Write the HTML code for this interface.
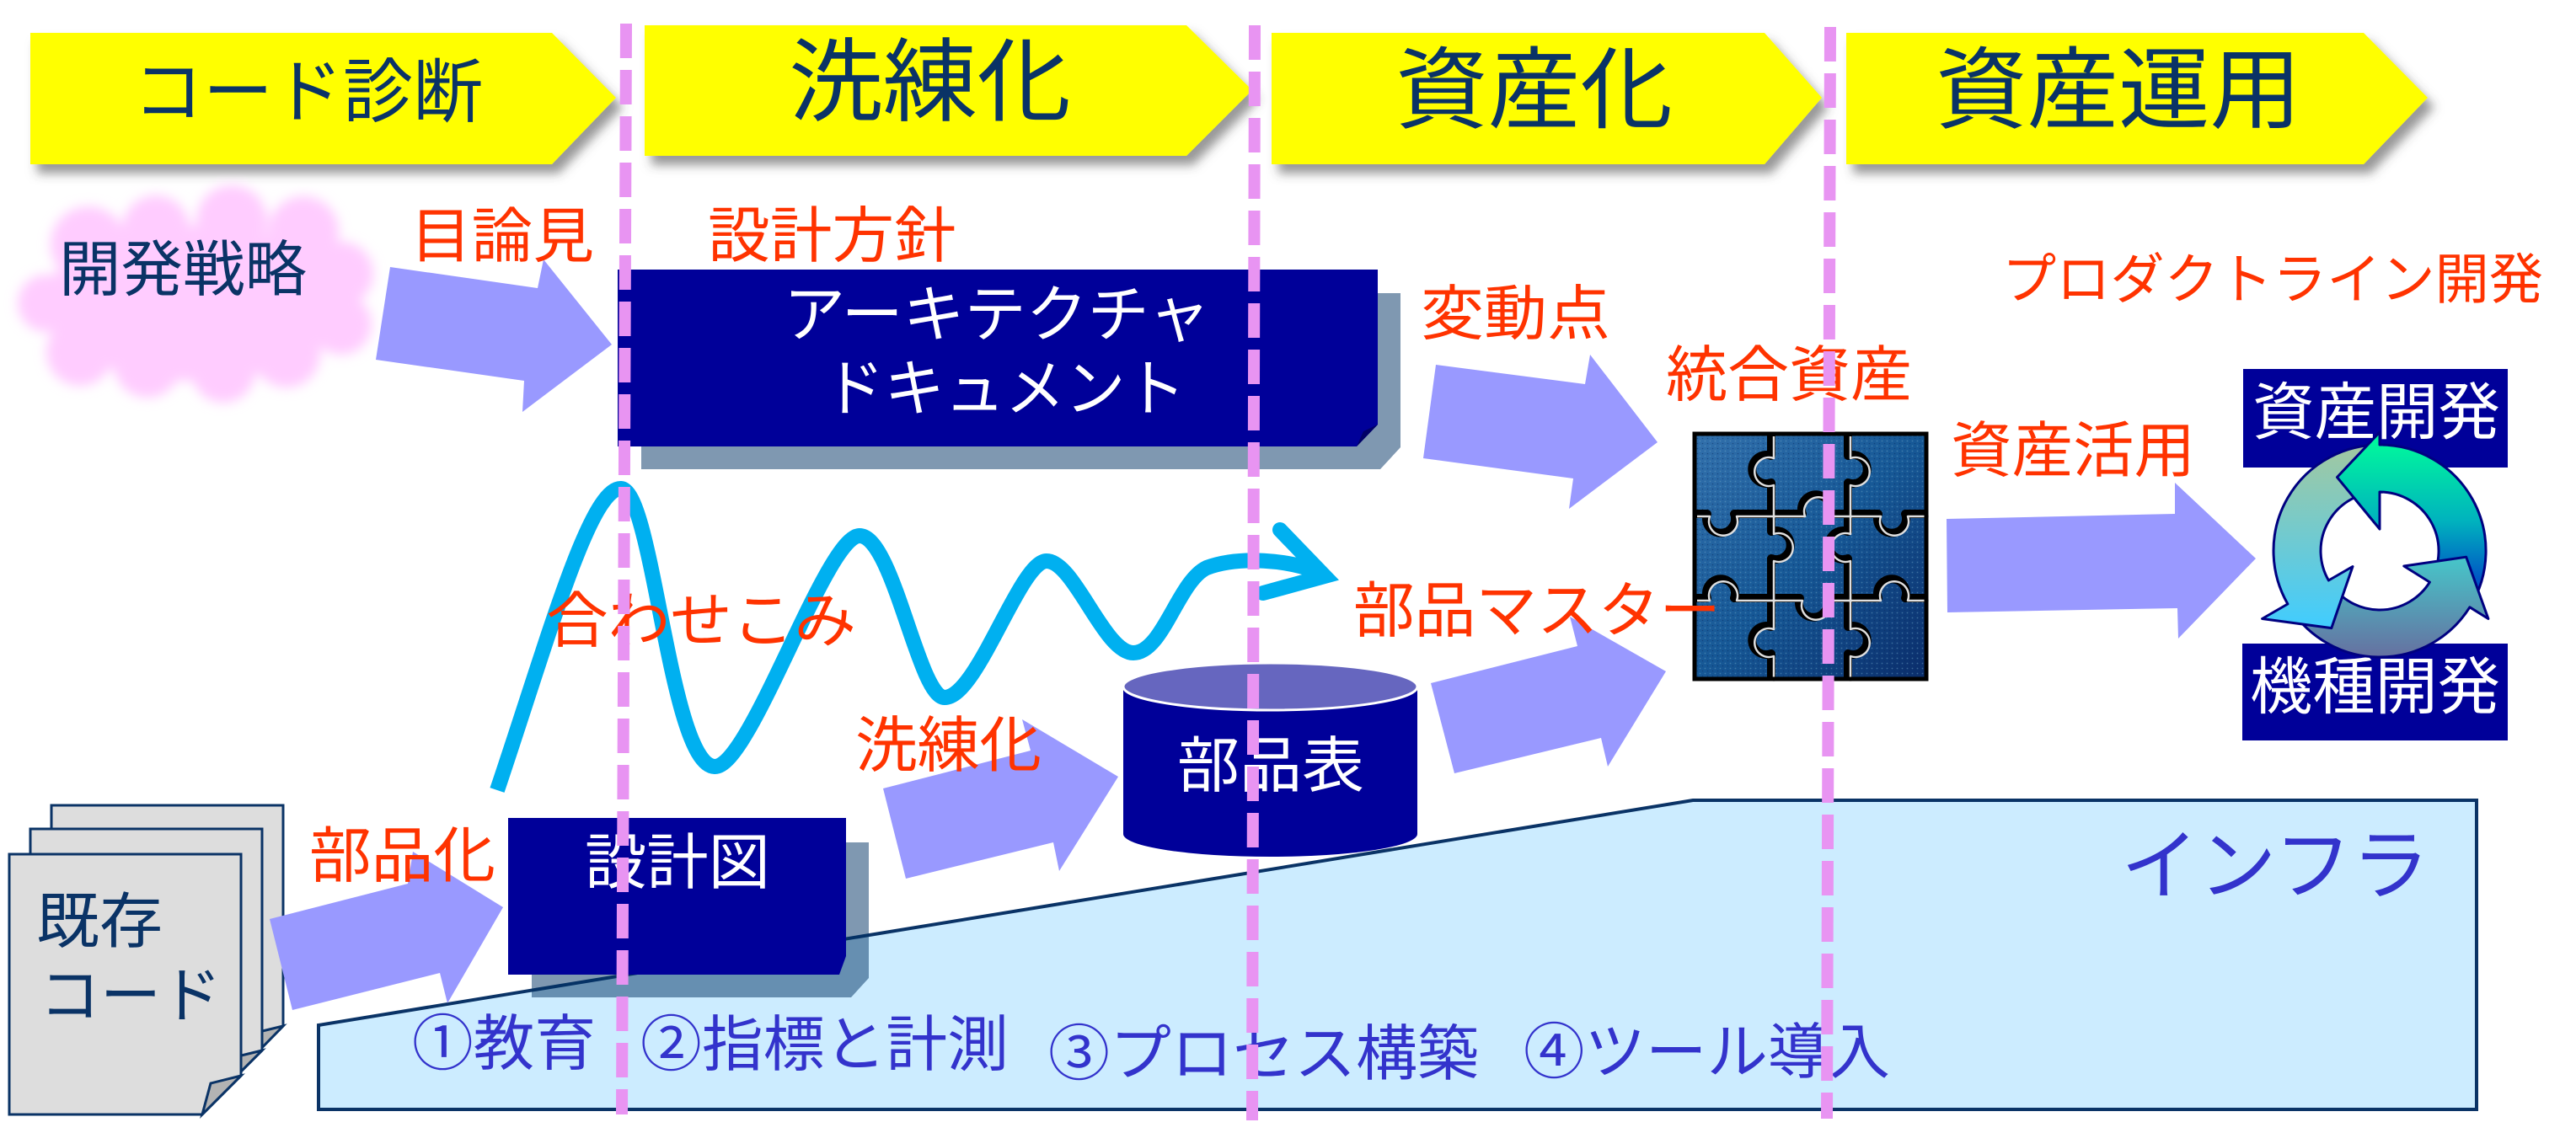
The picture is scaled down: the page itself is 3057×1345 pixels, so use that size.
<!DOCTYPE html>
<html><head><meta charset="utf-8">
<style>
html,body{margin:0;padding:0;background:#fff;}
svg{display:block;}
text{font-family:"Liberation Sans","Noto Sans CJK JP",sans-serif;}
</style></head>
<body>
<svg width="3057" height="1345" viewBox="0 0 3057 1345" xmlns="http://www.w3.org/2000/svg">
<defs>
  <filter id="ds" x="-10%" y="-20%" width="130%" height="160%">
    <feDropShadow dx="8" dy="11" stdDeviation="6" flood-color="#444" flood-opacity="0.55"/>
  </filter>
  <filter id="blur" x="-20%" y="-30%" width="140%" height="160%">
    <feGaussianBlur stdDeviation="7"/>
  </filter>
  <linearGradient id="gA" gradientUnits="userSpaceOnUse" x1="0" y1="-140" x2="0" y2="70">
    <stop offset="0" stop-color="#00FF99"/>
    <stop offset="0.5" stop-color="#00B2BE"/>
    <stop offset="1" stop-color="#0026C8"/>
  </linearGradient>
  <linearGradient id="gB" gradientUnits="userSpaceOnUse" x1="0" y1="-126" x2="0" y2="92">
    <stop offset="0" stop-color="#A2C8A0"/>
    <stop offset="1" stop-color="#40CCFF"/>
  </linearGradient>
  <linearGradient id="gC" gradientUnits="userSpaceOnUse" x1="0" y1="0" x2="0" y2="126">
    <stop offset="0" stop-color="#44CCCC"/>
    <stop offset="1" stop-color="#6670A0"/>
  </linearGradient>
  <linearGradient id="gP" x1="0" y1="0" x2="1" y2="1">
    <stop offset="0" stop-color="#3270AC"/>
    <stop offset="0.5" stop-color="#165896"/>
    <stop offset="1" stop-color="#0A2C6A"/>
  </linearGradient>
  <pattern id="dots" width="6" height="6" patternUnits="userSpaceOnUse">
    <rect width="6" height="6" fill="none"/>
    <circle cx="1.5" cy="1.5" r="0.9" fill="#6FA8C8" opacity="0.45"/>
    <circle cx="4.5" cy="4.5" r="0.8" fill="#082a60" opacity="0.5"/>
  </pattern>
  <clipPath id="clipAhead">
    <polygon points="4,-147 -57,-88 4,-20"/>
  </clipPath>
  <path id="arrA" d="M106.9,66.8 A126,126 0 0 0 0,-126 L0,-141 L-50.5,-87.5 L0,-26 L0,-70 A70,70 0 0 1 59.4,37.1 Z"/>
  <path id="arrC" d="M-109.1,63 A126,126 0 0 0 106.9,66.8 L128.9,80.5 L102.7,7.2 L28.8,18 L59.4,37.1 A70,70 0 0 1 -60.6,35 Z"/>
  <path id="arrB" d="M0,-126 A126,126 0 0 0 -109.1,63 L-139.4,80.5 L-57.2,91.6 L-32,18.5 L-60.6,35 A70,70 0 0 1 0,-70 Z"/>
  <g id="seams">
    <path d="M2102,515 L2102,541 A17,17 0 1 0 2102,573 L2102,631 A17,17 0 1 1 2102,663 L2102,744 A17,17 0 1 0 2102,776 L2102,806"/>
    <path d="M2193,515 L2193,541 A17,17 0 1 1 2193,573 L2193,631 A17,17 0 1 0 2193,663 L2193,744 A17,17 0 1 1 2193,776 L2193,806"/>
    <path d="M2011,610 L2026,610 A17,17 0 1 0 2058,610 L2139,610 A17,17 0 1 1 2171,610 L2229,610 A17,17 0 1 0 2261,610 L2286,610"/>
    <path d="M2011,710 L2026,710 A17,17 0 1 1 2058,710 L2136,710 A17,17 0 1 0 2168,710 L2229,710 A17,17 0 1 1 2261,710 L2286,710"/>
  </g>
</defs>

<!-- Chevrons -->
<g filter="url(#ds)" fill="#FFFF00">
  <polygon points="36,39 655,39 731,116 655,195 36,195"/>
  <polygon points="765,30 1408,30 1486,107 1408,185 765,185"/>
  <polygon points="1509,39 2094,39 2162,116 2094,195 1509,195"/>
  <polygon points="2191,39 2805,39 2881,116 2805,195 2191,195"/>
</g>
<g fill="#0A3366">
  <text x="158" y="138" font-size="83" textLength="415" lengthAdjust="spacingAndGlyphs">コード診断</text>
  <text x="936" y="135" font-size="108" textLength="335" lengthAdjust="spacingAndGlyphs">洗練化</text>
  <text x="1656" y="144" font-size="106" textLength="329" lengthAdjust="spacingAndGlyphs">資産化</text>
  <text x="2297" y="144" font-size="106" textLength="434" lengthAdjust="spacingAndGlyphs">資産運用</text>
</g>

<!-- Cloud -->
<g fill="#FFCCFF" filter="url(#blur)">
  <ellipse cx="232" cy="360" rx="180" ry="92"/>
  <circle cx="105" cy="290" r="45"/>
  <circle cx="185" cy="272" r="40"/>
  <circle cx="275" cy="262" r="42"/>
  <circle cx="360" cy="275" r="42"/>
  <circle cx="405" cy="325" r="38"/>
  <circle cx="405" cy="385" r="36"/>
  <circle cx="340" cy="420" r="40"/>
  <circle cx="265" cy="440" r="38"/>
  <circle cx="175" cy="432" r="40"/>
  <circle cx="95" cy="418" r="40"/>
  <circle cx="55" cy="360" r="34"/>
</g>
<text x="70" y="345" font-size="72" fill="#0A3366" textLength="294" lengthAdjust="spacingAndGlyphs">開発戦略</text>

<!-- Infra -->
<polygon points="378,1217 2009,950 2939,950 2939,1317 378,1317" fill="#CCECFF" stroke="#0A3366" stroke-width="4"/>

<!-- Documents -->
<g stroke="#0A3366" stroke-width="3" stroke-linejoin="miter">
  <polygon points="61,956 336,956 336,1218 290,1265 61,1265" fill="#DDDDDD"/>
  <polygon points="336,1218 299,1227 290,1265" fill="#B3B3B3"/>
  <polygon points="36,984 311,984 311,1247 265,1293 36,1293" fill="#DDDDDD"/>
  <polygon points="311,1247 274,1256 265,1293" fill="#B3B3B3"/>
  <polygon points="11,1014 286,1014 286,1277 240,1323 11,1323" fill="#DDDDDD"/>
  <polygon points="286,1277 250,1286 240,1323" fill="#B3B3B3"/>
</g>
<text x="43" y="1119" font-size="72" fill="#0A3366" textLength="150" lengthAdjust="spacingAndGlyphs">既存</text>
<text x="47" y="1207" font-size="72" fill="#0A3366" textLength="216" lengthAdjust="spacingAndGlyphs">コード</text>

<!-- Lavender arrows -->
<g fill="#9999FF">
  <polygon points="463,317 638,342 645,308 726,409 620,489 622,452 446,427"/>
  <polygon points="320,1091 484,1049 490,1011 597,1077 531,1191 522,1155 347,1199"/>
  <polygon points="1048,936 1223,891 1213,854 1327,922 1257,1034 1250,1000 1075,1043"/>
  <polygon points="1698,811 1872,767 1863,732 1977,797 1908,910 1900,876 1726,918"/>
  <polygon points="1704,433 1881,456 1887,421 1967,525 1862,604 1867,568 1689,544"/>
  <polygon points="2310,616 2581,610 2581,573 2677,663 2585,758 2584,722 2311,727"/>
</g>

<!-- Architecture document box -->
<polygon points="761,348 1662,348 1662,531 1638,557 761,557" fill="rgba(0,50,100,0.5)"/>
<polygon points="733,320 1635,320 1635,504 1610,530 733,530" fill="#000099"/>
<polygon points="1635,504 1618,512 1610,530" fill="#000066"/>
<text x="930" y="399" font-size="74" fill="#fff" textLength="506" lengthAdjust="spacingAndGlyphs">アーキテクチャ</text>
<text x="978" y="487" font-size="74" fill="#fff" textLength="429" lengthAdjust="spacingAndGlyphs">ドキュメント</text>

<!-- 設計図 box -->
<polygon points="631,1000 1031,1000 1031,1161 1010,1184 631,1184" fill="rgba(0,50,100,0.5)"/>
<polygon points="603,971 1004,971 1004,1135 996,1157 603,1157" fill="#000099"/>
<text x="694" y="1049" font-size="72" fill="#fff" textLength="220" lengthAdjust="spacingAndGlyphs">設計図</text>

<!-- Cylinder 部品表 -->
<rect x="1333" y="815" width="349" height="175" fill="#000099"/>
<ellipse cx="1507.5" cy="990" rx="174.5" ry="27" fill="#000099"/>
<ellipse cx="1507.5" cy="815" rx="174.5" ry="28" fill="#6666BF" stroke="#fff" stroke-width="3"/>
<text x="1397" y="934" font-size="72" fill="#fff" textLength="222" lengthAdjust="spacingAndGlyphs">部品表</text>

<!-- Wave -->
<path d="M590,938 C650,760 700,578 737,580 C775,582 795,908 848,910 C890,912 980,636 1020,636 C1060,636 1090,828 1121,828 C1160,828 1210,666 1242,666 C1275,666 1310,775 1345,775 C1380,775 1398,690 1432,674 C1470,660 1530,664 1566,680" fill="none" stroke="#00B0F0" stroke-width="18" stroke-linejoin="round"/>
<polyline points="1519,629 1572,684 1499,704" fill="none" stroke="#00B0F0" stroke-width="18" stroke-linecap="round" stroke-linejoin="miter" stroke-miterlimit="6"/>

<!-- Puzzle -->
<rect x="2009" y="513" width="279" height="295" fill="url(#gP)"/>
<rect x="2009" y="513" width="279" height="295" fill="url(#dots)"/>
<g fill="none" stroke-linejoin="round">
  <use href="#seams" stroke="#000" stroke-width="10"/>
  <use href="#seams" stroke="#E0E0E0" stroke-width="2.5" transform="translate(3,3)"/>
</g>
<rect x="2011" y="515" width="275" height="291" fill="none" stroke="#000" stroke-width="5"/>

<!-- Boxes 資産開発 / 機種開発 -->
<rect x="2662" y="438" width="314" height="117" fill="#000099"/>
<rect x="2661" y="764" width="315" height="115" fill="#000099"/>
<text x="2673" y="515" font-size="74" fill="#fff" textLength="294" lengthAdjust="spacingAndGlyphs">資産開発</text>
<text x="2670" y="841" font-size="74" fill="#fff" textLength="297" lengthAdjust="spacingAndGlyphs">機種開発</text>

<!-- Cycle arrows -->
<g transform="translate(2824,654)" stroke="#000080" stroke-width="3" stroke-linejoin="round">
  <use href="#arrA" fill="url(#gA)"/>
  <use href="#arrC" fill="url(#gC)"/>
  <use href="#arrB" fill="url(#gB)"/>
  <g clip-path="url(#clipAhead)"><use href="#arrA" fill="url(#gA)"/></g>
</g>

<!-- Red labels -->
<g fill="#FF3300">
  <text x="487" y="305" font-size="71" textLength="218" lengthAdjust="spacingAndGlyphs">目論見</text>
  <text x="840" y="305" font-size="72" textLength="295" lengthAdjust="spacingAndGlyphs">設計方針</text>
  <text x="1686" y="397" font-size="71" textLength="225" lengthAdjust="spacingAndGlyphs">変動点</text>
  <text x="1977" y="470" font-size="72" textLength="292" lengthAdjust="spacingAndGlyphs">統合資産</text>
  <text x="2315" y="560" font-size="72" textLength="290" lengthAdjust="spacingAndGlyphs">資産活用</text>
  <text x="2376" y="354" font-size="65" textLength="642" lengthAdjust="spacingAndGlyphs">プロダクトライン開発</text>
  <text x="648" y="762" font-size="72" textLength="368" lengthAdjust="spacingAndGlyphs">合わせこみ</text>
  <text x="1606" y="750" font-size="72" textLength="436" lengthAdjust="spacingAndGlyphs">部品マスター</text>
  <text x="367" y="1041" font-size="72" textLength="221" lengthAdjust="spacingAndGlyphs">部品化</text>
  <text x="1015" y="910" font-size="72" textLength="221" lengthAdjust="spacingAndGlyphs">洗練化</text>
</g>

<!-- Infra labels -->
<g fill="#3333CC">
  <text x="2517" y="1060" font-size="92" textLength="366" lengthAdjust="spacingAndGlyphs">インフラ</text>
  <text x="489" y="1264" font-size="72" textLength="218" lengthAdjust="spacingAndGlyphs">①教育</text>
  <text x="760" y="1265" font-size="72" textLength="437" lengthAdjust="spacingAndGlyphs">②指標と計測</text>
  <text x="1244" y="1276" font-size="72" textLength="511" lengthAdjust="spacingAndGlyphs">③プロセス構築</text>
  <text x="1808" y="1274" font-size="72" textLength="435" lengthAdjust="spacingAndGlyphs">④ツール導入</text>
</g>

<!-- Dashed phase lines -->
<g stroke="#E894F2" stroke-width="14" stroke-dasharray="41 14" fill="none">
  <line x1="743" y1="28" x2="738" y2="1323"/>
  <line x1="1489" y1="30" x2="1486" y2="1330"/>
  <line x1="2172" y1="32" x2="2168" y2="1328"/>
</g>
</svg>
</body></html>
